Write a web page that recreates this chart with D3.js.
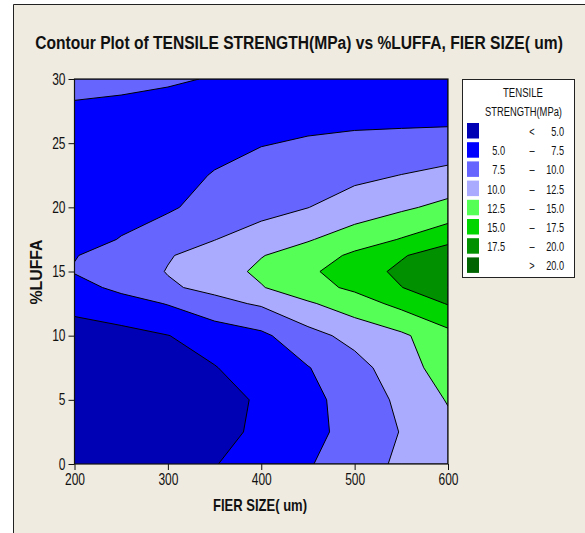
<!DOCTYPE html>
<html>
<head>
<meta charset="utf-8">
<style>
  body { margin: 0; background: #fff; }
  text { font-family: "Liberation Sans", Arial, sans-serif; fill: #111; }
</style>
</head>
<body>
<div id="container"></div>
<script src="https://cdn.jsdelivr.net/npm/d3@7"></script>
<script>
// grid axes (rows may be unevenly spaced, extra rows round the peak at 15 %)
const fiberSizes = [200, 250, 300, 350, 400, 450, 500, 550, 600];
const luffaLevels = [0, 2.5, 5, 7.5, 10, 12.5, 13.75, 15, 16.25, 17.5, 20, 22.5, 25, 27.5, 30];

// tensile strength (MPa): one row per %luffa, one column per fiber size
const tensileGrid = [
  [2.8, 3.3, 4.0, 4.9, 6.1, 7.3, 8.85, 10.45, 12.0],        // 0
  [2.7, 3.2, 3.7, 4.3, 5.43, 6.77, 8.35, 10.1, 11.8],       // 2.5
  [2.6, 3.0, 3.4, 3.94, 5.37, 6.81, 8.53, 10.5, 12.67],     // 5
  [3.1, 3.5, 3.8, 4.9, 6.15, 7.4, 9.1, 11.39, 13.7],        // 7.5
  [3.9, 4.3, 4.95, 6.0, 7.0, 9.14, 10.8, 12.07, 14.2],      // 10
  [5.74, 6.5, 7.62, 9.3, 10.3, 12.19, 13.82, 15.7, 17.64],  // 12.5
  [6.6, 8.1, 9.7, 10.6, 12.35, 14.1, 15.46, 17.45, 19.0],   // 13.75
  [7.65, 8.8, 10.1, 11.4, 12.97, 14.56, 16.27, 18.04, 19.6],// 15
  [7.4, 8.5, 9.85, 10.9, 12.4, 13.6, 15.5, 17.26, 19.0],    // 16.25
  [6.6, 7.6, 8.8, 9.95, 11.06, 12.31, 13.68, 15.14, 16.8],  // 17.5
  [6.2, 6.7, 7.2, 8.4, 9.2, 9.96, 11.17, 12.09, 13.2],      // 20
  [6.0, 6.4, 6.9, 7.6, 8.3, 8.79, 9.44, 10.04, 10.67],      // 22.5
  [6.3, 6.4, 6.6, 7.0, 7.4, 7.7, 7.98, 8.26, 8.55],         // 25
  [7.2, 7.1, 6.9, 6.6, 6.5, 6.8, 6.77, 6.61, 6.5],          // 27.5
  [8.1, 7.9, 7.7, 7.4, 7.0, 6.7, 6.6, 6.4, 6.2]             // 30
];

const thresholds = [5, 7.5, 10, 12.5, 15, 17.5, 20];
const bandColors = ["#0000b4", "#0000ff", "#6666ff", "#aaaaff", "#55ff55", "#00d500", "#009000", "#006400"];
const xTicks = [200, 300, 400, 500, 600];
const yTicks = [0, 5, 10, 15, 20, 25, 30];

const W = 585, H = 533;
const svg = d3.select("#container").append("svg")
  .attr("width", W).attr("height", H);

// squeeze text horizontally (the original font is a narrow one)
function condense(sel, k) {
  sel.each(function() {
    const t = d3.select(this);
    const x0 = +t.attr("x") || 0;
    t.attr("x", x0 / k).attr("transform", `scale(${k},1)`);
  });
}
function fitWidth(sel, w, pre) {
  const len = sel.node().getComputedTextLength();
  const k = w / len;
  sel.attr("transform", `${pre || ""} scale(${k},1)`);
}

// page background + frame
svg.append("rect").attr("width", W).attr("height", H).attr("fill", "#fff");
svg.append("rect").attr("x", 13).attr("y", 4).attr("width", W).attr("height", H)
  .attr("fill", "#efebe0");
svg.append("path").attr("d", `M13.5,${H} V4.5 H${W}`).attr("fill", "none").attr("stroke", "#222");

const x = d3.scaleLinear().domain([200, 600]).range([74.5, 448]);
const y = d3.scaleLinear().domain([0, 30]).range([464, 79]);

// contour bands
const n = fiberSizes.length, m = luffaLevels.length;
const values = tensileGrid.flat();
const contours = d3.contours().size([n, m]).thresholds(thresholds)(values);

const gx = d3.scaleLinear().domain(d3.range(n)).range(fiberSizes).clamp(true);
const gy = d3.scaleLinear().domain(d3.range(m)).range(luffaLevels).clamp(true);
const path = d3.geoPath(d3.geoTransform({
  point(px, py) { this.stream.point(x(gx(px - 0.5)), y(gy(py - 0.5))); }
}));

svg.append("clipPath").attr("id", "plotclip").append("rect")
  .attr("x", x(200)).attr("y", y(30)).attr("width", x(600) - x(200)).attr("height", y(0) - y(30));

const plot = svg.append("g").attr("clip-path", "url(#plotclip)");
plot.append("rect")
  .attr("x", x(200)).attr("y", y(30)).attr("width", x(600) - x(200)).attr("height", y(0) - y(30))
  .attr("fill", bandColors[0]);
plot.selectAll("path.band")
  .data(contours)
  .join("path")
  .attr("class", "band")
  .attr("d", path)
  .attr("fill", (d, i) => bandColors[i + 1])
  .attr("stroke", "#000")
  .attr("stroke-width", 1)
  .attr("stroke-linejoin", "round");

svg.append("rect")
  .attr("x", x(200)).attr("y", y(30)).attr("width", x(600) - x(200)).attr("height", y(0) - y(30))
  .attr("fill", "none").attr("stroke", "#111").attr("stroke-width", 1.2);

// axes
const xAxis = svg.append("g").attr("transform", `translate(0,${y(0)})`)
  .call(d3.axisBottom(x).tickValues(xTicks).tickSize(6).tickPadding(4).tickSizeOuter(0));
const yAxis = svg.append("g").attr("transform", `translate(${x(200)},0)`)
  .call(d3.axisLeft(y).tickValues(yTicks).tickSize(6).tickPadding(3).tickSizeOuter(0));
[xAxis, yAxis].forEach(a => {
  a.select(".domain").remove();
  a.selectAll("line").attr("stroke", "#111");
  a.selectAll("text").attr("font-size", 16).attr("font-family", null).attr("fill", "#111");
  condense(a.selectAll("text"), 0.75);
});

// titles
const title = svg.append("text").attr("x", 0).attr("y", 0).attr("text-anchor", "middle")
  .attr("font-size", 19).attr("font-weight", "bold")
  .text("Contour Plot of TENSILE STRENGTH(MPa) vs %LUFFA, FIER SIZE( um)");
fitWidth(title, 528, "translate(299,49)");
const xTitle = svg.append("text").attr("text-anchor", "middle")
  .attr("font-size", 16).attr("font-weight", "bold")
  .text("FIER SIZE( um)");
fitWidth(xTitle, 94, "translate(260,511)");
const yTitle = svg.append("text").attr("text-anchor", "middle")
  .attr("font-size", 16).attr("font-weight", "bold")
  .text("%LUFFA");
fitWidth(yTitle, 65, "translate(42,272) rotate(-90)");

// legend
const fmt = d3.format(".1f");
const last = bandColors.length - 1;
const legendRows = bandColors.map((c, i) => ({
  color: c,
  lo: i === 0 || i === last ? "" : fmt(thresholds[i - 1]),
  mid: i === 0 ? "<" : (i === last ? ">" : "\u2013"),
  hi: i === last ? fmt(thresholds[i - 1]) : fmt(thresholds[i])
}));

const lg = svg.append("g");
lg.append("rect").attr("x", 462.5).attr("y", 79.5).attr("width", 112).attr("height", 198)
  .attr("fill", "#fff").attr("stroke", "#222");
const lt1 = lg.append("text").attr("text-anchor", "middle").attr("font-size", 13.5).text("TENSILE");
fitWidth(lt1, 40, "translate(523,97)");
const lt2 = lg.append("text").attr("text-anchor", "middle").attr("font-size", 13.5).text("STRENGTH(MPa)");
fitWidth(lt2, 77, "translate(523.5,116)");

const row = lg.selectAll("g.row").data(legendRows).join("g")
  .attr("class", "row")
  .attr("transform", (d, i) => `translate(0,${123 + i * 19.2})`);
row.append("rect").attr("x", 467).attr("y", 0).attr("width", 12).attr("height", 15.5)
  .attr("fill", d => d.color);
row.append("text").attr("class", "lv").attr("x", 505).attr("y", 13).attr("text-anchor", "end")
  .attr("font-size", 13.5).text(d => d.lo);
row.append("text").attr("class", "lv").attr("x", 532).attr("y", 13).attr("text-anchor", "middle")
  .attr("font-size", 13.5).text(d => d.mid);
row.append("text").attr("class", "lv").attr("x", 564).attr("y", 13).attr("text-anchor", "end")
  .attr("font-size", 13.5).text(d => d.hi);
condense(row.selectAll("text.lv"), 0.68);
</script>
</body>
</html>
